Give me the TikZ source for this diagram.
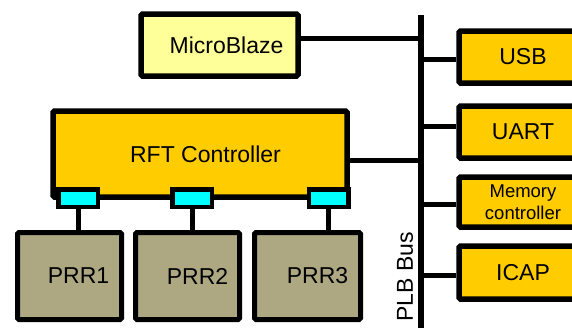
\documentclass[tikz,border=0pt]{standalone}
\usepackage{fontspec}
\setmainfont{Liberation Sans}
\usepackage{xcolor}
\usepackage{tikz}
\usetikzlibrary{calc}

\definecolor{mbyellow}{HTML}{FFFF99}
\definecolor{ipgold}{HTML}{FFCC00}
\definecolor{portcyan}{HTML}{00FFFF}
\definecolor{prrkhaki}{HTML}{ADA882}

\tikzset{
  blk/.style={draw=black, line width=5.5pt, rounded corners=1.5pt, inner sep=0pt,
    font=\fontsize{23}{26}\selectfont},
  ipblk/.style={blk, fill=ipgold, minimum width=128pt},
  prrblk/.style={blk, fill=prrkhaki, line width=5pt, minimum height=87pt},
  portblk/.style={draw=black, line width=4.5pt, fill=portcyan, minimum width=39.5pt, minimum height=17.5pt, inner sep=0pt},
  wire/.style={line width=5pt},
}

\begin{document}
\begin{tikzpicture}[x=1pt, y=-1pt]
  \useasboundingbox (0,0) rectangle (572,327);

  % processor and bus
  \node[blk, fill=mbyellow, minimum width=157pt, minimum height=62pt] (mb) at (219.5,45) {\hspace*{14pt}MicroBlaze};
  \coordinate (bustop) at (421,15);
  \coordinate (busbot) at (421,335);
  \draw[wire, line width=6pt] (bustop) -- (busbot);
  \node[rotate=90, font=\fontsize{23}{26}\selectfont, inner sep=0pt] (plb) at (405,277) {PLB Bus};

  % peripherals on the right
  \node[ipblk, minimum height=52pt] (usb) at (523,57) {USB};
  \node[ipblk, minimum height=52pt] (uart) at (523,132) {UART};
  \node[ipblk, minimum height=50pt, align=center, font=\fontsize{18.5}{22}\selectfont] (mem) at (523,202) {Memory\\controller};
  \node[ipblk, minimum height=53pt] (icap) at (523,272.5) {ICAP};

  % RFT controller with its ports
  \node[blk, fill=ipgold, minimum width=294pt, minimum height=86pt] (rft) at (200,154) {\hspace*{11pt}RFT Controller};
  \node[portblk] (p1) at (78,198) {};
  \node[portblk] (p2) at (192,198) {};
  \node[portblk] (p3) at (328.5,198) {};

  % reconfigurable regions
  \node[prrblk, minimum width=104pt] (prr1) at (69.5,276) {\hspace*{18pt}PRR1};
  \node[prrblk, minimum width=104pt] (prr2) at (187.5,276) {\hspace*{20pt}PRR2};
  \node[prrblk, minimum width=106pt] (prr3) at (307.5,276) {\hspace*{20pt}PRR3};

  % connections
  \draw[wire] ([yshift=7pt]mb.east) -- ([yshift=7pt]mb.east -| bustop);
  \draw[wire] ([yshift=-6pt]rft.east) -- ([yshift=-6pt]rft.east -| bustop);
  \draw[wire] ([yshift=-2pt]usb.west) -- ([yshift=-2pt]usb.west -| bustop);
  \draw[wire] ([yshift=6pt]uart.west) -- ([yshift=6pt]uart.west -| bustop);
  \draw[wire] ([yshift=-2pt]mem.west) -- ([yshift=-2pt]mem.west -| bustop);
  \draw[wire] ([yshift=-2.5pt]icap.west) -- ([yshift=-2.5pt]icap.west -| bustop);
  \foreach \p/\r in {p1/prr1, p2/prr2, p3/prr3}
    \draw[wire] (\p.south) -- (\p.south |- \r.north);
\end{tikzpicture}
\end{document}
